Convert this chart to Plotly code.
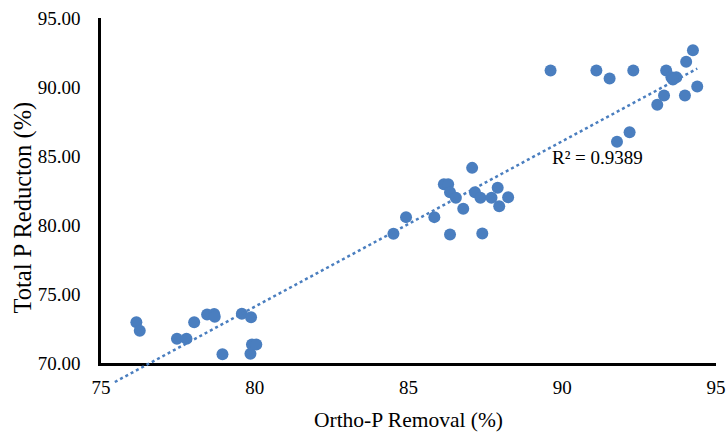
import numpy as np
import plotly.graph_objects as go

# ---- data ----
ortho_p_removal = [
    76.15, 76.26, 77.47, 77.78, 77.22, 78.03, 78.45, 78.68, 78.70, 79.58,
    79.88, 78.95, 79.86, 79.91, 80.05,
    84.51, 84.92, 85.84, 86.15, 86.29, 86.35, 86.54, 86.78, 87.07, 87.16,
    87.34, 87.70, 87.90, 88.24, 87.95, 86.35, 87.40,
    89.62, 91.11, 91.54, 92.31, 93.38, 94.03, 94.25, 93.55, 93.71, 93.60,
    94.39, 93.31, 93.09, 93.99, 92.19, 91.78,
]
total_p_reduction = [
    72.95, 72.33, 71.75, 71.75, 69.96, 72.96, 73.51, 73.55, 73.35, 73.57,
    73.32, 70.64, 70.67, 71.34, 71.34,
    79.36, 80.57, 80.57, 82.96, 82.96, 82.38, 81.97, 81.17, 84.14, 82.38,
    81.97, 81.97, 82.70, 82.01, 81.36, 79.31, 79.38,
    91.20, 91.20, 90.62, 91.20, 91.20, 91.83, 92.67, 90.71, 90.71, 90.55,
    90.04, 89.38, 88.71, 89.38, 86.72, 86.03,
]
x_ticks = [75, 80, 85, 90, 95]
y_ticks = [70, 75, 80, 85, 90, 95]
r2_label = "R² = 0.9389"
x_title = "Ortho-P Removal (%)"
y_title = "Total P Reducton (%)"
trend_backward = 0.7

# ---- trendline (linear least squares) ----
xs = np.array(ortho_p_removal)
ys = np.array(total_p_reduction)
slope, intercept = np.polyfit(xs, ys, 1)
tx = np.array([xs.min() - trend_backward, xs.max()])
ty = slope * tx + intercept

# ---- layout geometry ----
W, H = 728, 433
m_l, m_r, m_t, m_b = 101, 12, 18, 45
extra_px = 25  # plot space below y=70 for the trendline overhang
pw = W - m_l - m_r
ph = H - m_t - m_b
main_dom0 = extra_px / ph
px_per_unit = (ph - extra_px) / (y_ticks[-1] - y_ticks[0])
y2_min = y_ticks[0] - extra_px / px_per_unit


def paper_x(px):
    return (px - m_l) / pw


def paper_y(py):
    return (H - m_b - py) / ph


FONT = "Liberation Serif, Times New Roman, serif"
BLUE = "#4A7EBF"

fig = go.Figure()
fig.add_trace(go.Scatter(
    x=ortho_p_removal, y=total_p_reduction, mode="markers",
    marker=dict(size=12, color=BLUE, line=dict(width=0)),
    cliponaxis=False, xaxis="x", yaxis="y", showlegend=False,
))
fig.add_trace(go.Scatter(
    x=tx, y=ty, mode="lines",
    line=dict(color=BLUE, width=2.5, dash="dot"),
    xaxis="x2", yaxis="y2", showlegend=False, hoverinfo="skip",
))

fig.update_layout(
    width=W, height=H,
    margin=dict(l=m_l, r=m_r, t=m_t, b=m_b),
    paper_bgcolor="white", plot_bgcolor="rgba(0,0,0,0)",
    font=dict(family=FONT, color="black", size=19),
    xaxis=dict(
        domain=[0, 1], range=[x_ticks[0], x_ticks[-1]], anchor="y",
        tickvals=x_ticks, ticktext=[str(v) for v in x_ticks],
        showgrid=False, zeroline=False, showline=True, linecolor="black",
        linewidth=2.5, ticks="", ticklabelstandoff=5,
        tickfont=dict(size=19, family=FONT),
        title=dict(text=x_title, font=dict(size=21.5, family=FONT), standoff=16),
        automargin=False,
    ),
    yaxis=dict(
        domain=[main_dom0, 1], range=[y_ticks[0], y_ticks[-1]], anchor="x",
        tickvals=y_ticks, ticktext=[f"{v:.2f}" for v in y_ticks],
        showgrid=False, zeroline=False, showline=True, linecolor="black",
        linewidth=2.5, ticks="", ticklabelstandoff=14,
        tickfont=dict(size=19, family=FONT),
        automargin=False,
    ),
    xaxis2=dict(domain=[0, 1], range=[x_ticks[0], x_ticks[-1]], anchor="y2",
                visible=False, fixedrange=True),
    yaxis2=dict(domain=[0, 1], range=[y2_min, y_ticks[-1]], anchor="x2",
                visible=False, fixedrange=True),
    annotations=[
        dict(
            text=r2_label, x=89.6, y=84.86, xref="x", yref="y",
            xanchor="left", yanchor="middle", showarrow=False,
            font=dict(size=19, family=FONT, color="black"),
        ),
        dict(
            text=y_title, textangle=-90,
            x=paper_x(22.5), y=paper_y(207), xref="paper", yref="paper",
            xanchor="center", yanchor="middle", showarrow=False,
            font=dict(size=24.5, family=FONT, color="black"),
        ),
    ],
)

fig.write_html(
    "out.html",
    config={"displayModeBar": False},
    post_script="document.body.style.margin='0';document.body.style.overflow='hidden';",
)
